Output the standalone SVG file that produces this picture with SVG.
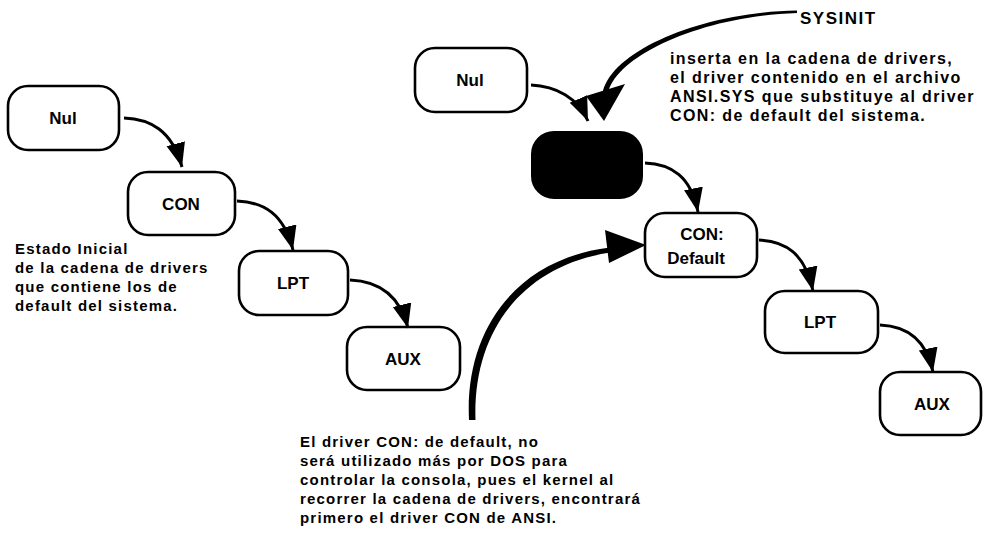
<svg xmlns="http://www.w3.org/2000/svg" width="988" height="542" viewBox="0 0 988 542">
<style>
.box{fill:#fff;stroke:#000;stroke-width:2.6}
.lbl{font-family:"Liberation Sans",Arial,sans-serif;font-weight:bold;font-size:17px;text-anchor:middle;fill:#000}
.txt{font-family:"Liberation Sans",Arial,sans-serif;font-weight:bold;font-size:15px;letter-spacing:1.2px;fill:#000}
.txr{font-size:16px;letter-spacing:1.4px}
.con{fill:none;stroke:#000;stroke-width:3;marker-end:url(#ah)}
</style>
<defs>
<marker id="ah" markerUnits="userSpaceOnUse" markerWidth="28" markerHeight="22" refX="24" refY="9.5" orient="auto">
<path d="M0,0 L24,9.5 L0,19 z" fill="#000"/>
</marker>
</defs>
<rect width="988" height="542" fill="#fff"/>

<g id="nul-left"><rect class="box" x="8" y="86" width="111" height="64" rx="20"/><text class="lbl" x="63" y="124">Nul</text></g>
<g id="con-left"><rect class="box" x="128" y="172" width="107" height="63" rx="20"/><text class="lbl" x="181" y="210">CON</text></g>
<g id="lpt-left"><rect class="box" x="239" y="251" width="109" height="64" rx="20"/><text class="lbl" x="293" y="289">LPT</text></g>
<g id="aux-left"><rect class="box" x="347" y="327" width="113" height="63" rx="20"/><text class="lbl" x="403" y="365">AUX</text></g>

<g id="nul-right"><rect class="box" x="415" y="48" width="112" height="64" rx="20"/><text class="lbl" x="470" y="86">Nul</text></g>
<g id="ansi"><rect x="532" y="132" width="110" height="66" rx="22" fill="#000" stroke="#000" stroke-width="2"/></g>
<g id="con-default"><rect class="box" x="645" y="213" width="112" height="64" rx="20"/><text class="lbl" x="702" y="240">CON:</text><text class="lbl" x="696" y="264">Default</text></g>
<g id="lpt-right"><rect class="box" x="765" y="291" width="113" height="62" rx="20"/><text class="lbl" x="820" y="328">LPT</text></g>
<g id="aux-right"><rect class="box" x="880" y="372" width="101" height="63" rx="20"/><text class="lbl" x="932" y="410">AUX</text></g>

<g id="connectors">
<path class="con" d="M124,118 C150,119 172,130 182,167"/>
<path class="con" d="M237,201 C264,202 284,214 293,250"/>
<path class="con" d="M350,280 C377,281 399,293 408,328"/>
<path class="con" d="M531,85 C556,86 578,98 588,121"/>
<path class="con" d="M645,163 C671,164 691,176 698,212"/>
<path class="con" d="M759,240 C785,241 805,253 813,291"/>
<path class="con" d="M880,325 C906,326 926,338 933,372"/>
<path d="M797,10.5 C700,12 609,52 602.5,94 L608,94 C614,57 700,16 797,13 Z" fill="#000"/>
<polygon points="586,96 625,84 604,121" fill="#000"/>
<path d="M469,420 C464.5,328 518,258.5 610,247.5 L610,252.5 C522,266 472.5,332 475.5,420 Z" fill="#000"/>
<polygon points="605,230 646,245 609,263" fill="#000"/>
</g>

<g id="texts">
<text class="txt" x="15" y="254">Estado Inicial</text>
<text class="txt" x="15" y="273">de la cadena de drivers</text>
<text class="txt" x="15" y="292">que contiene los de</text>
<text class="txt" x="15" y="311">default del sistema.</text>

<text class="txt" x="800" y="24" style="font-size:17px;letter-spacing:1.5px">SYSINIT</text>
<text class="txt txr" x="670" y="64">inserta en la cadena de drivers,</text>
<text class="txt txr" x="670" y="83">el driver contenido en el archivo</text>
<text class="txt txr" x="670" y="102">ANSI.SYS que substituye al driver</text>
<text class="txt txr" x="670" y="121">CON: de default del sistema.</text>

<text class="txt" x="300" y="447">El driver CON: de default, no</text>
<text class="txt" x="300" y="466">será utilizado más por DOS para</text>
<text class="txt" x="300" y="485">controlar la consola, pues el kernel al</text>
<text class="txt" x="300" y="504">recorrer la cadena de drivers, encontrará</text>
<text class="txt" x="300" y="523">primero el driver CON de ANSI.</text>
</g>
</svg>
